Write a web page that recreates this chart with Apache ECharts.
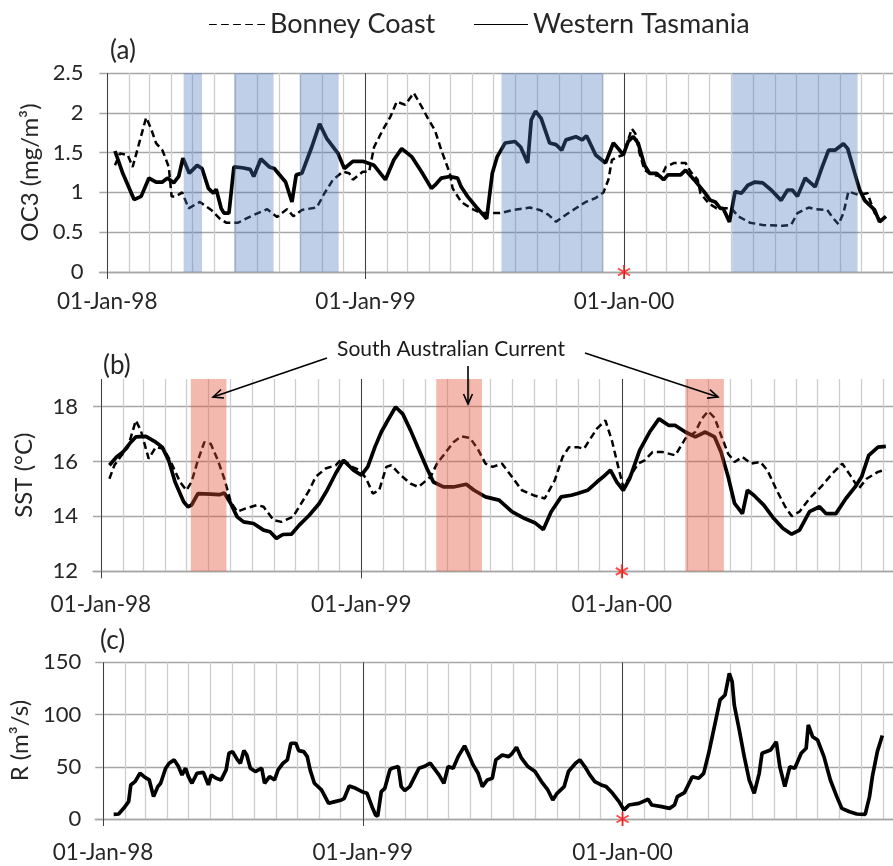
<!DOCTYPE html>
<html><head><meta charset="utf-8">
<script src="https://cdn.jsdelivr.net/npm/echarts@6/dist/echarts.min.js"></script>
<style>html,body{margin:0;padding:0;background:#fff}#c{width:893px;height:866px}</style>
</head><body><div id="c"></div>
<script>
// ---------------- DATA (day offsets from 01-Jan-1998, value) ----------------
const oc3Tasmania = [[11,1.52],[22,1.24],[38,0.91],[48,0.95],[59,1.18],[69,1.13],[78,1.13],[85,1.18],[94,1.12],[101,1.20],[107,1.43],[116,1.24],[127,1.34],[134,1.30],[143,1.05],[150,0.99],[154,1.04],[161,0.80],[165,0.74],[172,0.74],[179,1.32],[191,1.31],[202,1.29],[207,1.20],[217,1.42],[229,1.32],[236,1.30],[252,1.13],[261,0.88],[267,1.22],[275,1.24],[289,1.57],[300,1.86],[310,1.68],[326,1.49],[335,1.30],[347,1.39],[361,1.39],[377,1.34],[393,1.16],[405,1.41],[416,1.55],[430,1.45],[444,1.26],[458,1.05],[463,1.09],[472,1.18],[484,1.20],[495,1.18],[500,1.07],[509,0.95],[521,0.82],[536,0.67],[544,1.24],[551,1.45],[562,1.62],[576,1.64],[584,1.57],[594,1.37],[599,1.91],[605,2.02],[613,1.93],[625,1.62],[634,1.60],[642,1.53],[648,1.66],[662,1.70],[671,1.66],[677,1.71],[681,1.64],[690,1.47],[704,1.37],[715,1.62],[722,1.55],[729,1.47],[736,1.64],[743,1.70],[750,1.62],[759,1.34],[766,1.24],[776,1.24],[786,1.16],[792,1.22],[810,1.22],[817,1.28],[829,1.16],[843,1.01],[852,0.90],[859,0.88],[866,0.80],[870,0.80],[879,0.63],[887,1.01],[896,0.99],[905,1.09],[915,1.13],[926,1.12],[938,1.03],[952,0.90],[961,1.03],[968,1.03],[975,0.95],[986,1.18],[1000,1.07],[1010,1.32],[1019,1.53],[1028,1.53],[1040,1.61],[1046,1.55],[1056,1.24],[1063,1.03],[1070,0.90],[1084,0.78],[1091,0.63],[1100,0.70]];
const oc3Bonney = [[11,1.34],[18,1.49],[29,1.47],[36,1.32],[55,1.94],[62,1.80],[69,1.62],[78,1.53],[87,1.32],[91,0.95],[97,0.95],[106,1.00],[115,0.80],[131,0.88],[147,0.78],[159,0.67],[168,0.62],[185,0.62],[203,0.70],[226,0.79],[240,0.69],[254,0.79],[263,0.70],[275,0.78],[296,0.81],[307,0.99],[319,1.16],[333,1.26],[342,1.24],[347,1.16],[361,1.26],[370,1.26],[377,1.57],[389,1.78],[400,1.95],[409,2.14],[421,2.10],[433,2.25],[444,2.08],[453,1.93],[463,1.78],[472,1.53],[484,1.24],[488,1.05],[500,0.88],[514,0.80],[528,0.74],[555,0.74],[574,0.78],[597,0.81],[611,0.78],[623,0.72],[634,0.63],[648,0.72],[662,0.80],[676,0.88],[690,0.93],[701,1.00],[708,1.16],[713,1.41],[722,1.45],[729,1.47],[736,1.66],[741,1.80],[746,1.74],[752,1.49],[759,1.28],[771,1.22],[783,1.20],[789,1.32],[801,1.37],[817,1.37],[824,1.26],[834,1.16],[838,0.99],[850,0.86],[861,0.80],[870,0.80],[882,0.80],[891,0.70],[908,0.62],[926,0.59],[954,0.58],[966,0.59],[975,0.74],[991,0.81],[1000,0.79],[1017,0.78],[1026,0.67],[1033,0.60],[1040,0.74],[1047,1.01],[1061,0.97],[1074,0.99],[1084,0.74],[1092,0.65],[1100,0.68]];
const sstTasmania = [[12,15.86],[22,16.16],[31,16.34],[42,16.7],[49,16.89],[63,16.91],[77,16.7],[86,16.52],[95,16.04],[104,15.25],[116,14.53],[122,14.35],[127,14.41],[136,14.83],[154,14.81],[166,14.79],[173,14.85],[182,14.47],[191,13.98],[200,13.80],[214,13.74],[228,13.5],[237,13.44],[246,13.2],[255,13.34],[267,13.35],[278,13.68],[292,14.04],[306,14.47],[317,14.95],[329,15.56],[340,16.04],[354,15.68],[365,15.5],[374,15.8],[384,16.52],[393,17.07],[402,17.49],[413,17.98],[423,17.73],[434,17.13],[445,16.46],[457,15.74],[466,15.25],[480,15.07],[494,15.07],[512,15.17],[523,14.95],[539,14.71],[558,14.59],[576,14.17],[594,13.92],[608,13.77],[620,13.52],[631,14.17],[645,14.71],[659,14.77],[668,14.83],[682,14.95],[695,15.25],[704,15.44],[714,15.68],[723,15.25],[732,14.95],[741,15.37],[755,16.40],[769,17.07],[782,17.55],[796,17.31],[805,17.31],[819,17.07],[833,16.89],[847,17.07],[860,16.89],[869,16.34],[879,15.44],[888,14.47],[899,14.1],[906,14.95],[915,14.77],[929,14.41],[943,13.92],[956,13.56],[968,13.35],[979,13.5],[993,14.17],[1007,14.35],[1016,14.1],[1030,14.1],[1044,14.65],[1057,15.07],[1066,15.44],[1076,16.22],[1089,16.52],[1100,16.55]];
const sstBonney = [[12,15.37],[19,15.86],[29,16.22],[38,16.52],[49,17.49],[56,17.13],[67,16.1],[77,16.52],[88,16.46],[97,16.04],[111,15.25],[120,14.95],[127,15.25],[136,16.04],[145,16.7],[154,16.64],[164,16.04],[173,15.37],[182,14.53],[191,14.17],[203,14.29],[219,14.41],[228,14.35],[242,13.86],[253,13.8],[269,13.98],[278,14.35],[292,14.95],[301,15.44],[315,15.74],[329,15.86],[338,16.1],[352,15.8],[363,15.68],[372,15.37],[381,14.83],[390,14.95],[400,15.8],[407,15.86],[420,15.5],[434,15.19],[445,15.07],[462,15.44],[471,15.92],[480,16.22],[494,16.7],[505,16.91],[517,16.86],[528,16.46],[539,15.92],[549,15.8],[562,15.92],[576,15.44],[590,14.95],[606,14.77],[622,14.65],[636,15.31],[647,16.16],[656,16.52],[668,16.52],[677,16.46],[686,16.83],[695,17.19],[707,17.49],[716,16.77],[725,15.8],[732,15.07],[741,15.44],[753,15.92],[762,16.04],[773,16.34],[787,16.34],[805,16.22],[819,16.83],[833,17.07],[842,17.55],[851,17.83],[860,17.59],[869,16.95],[879,16.28],[888,15.98],[899,16.16],[911,15.92],[924,15.98],[934,15.68],[947,14.95],[959,14.35],[968,14.01],[979,14.17],[993,14.65],[1009,15.07],[1025,15.56],[1039,15.92],[1050,15.5],[1062,15.01],[1073,15.37],[1089,15.62],[1100,15.7]];
const riverR = [[15,4.5],[22,4.8],[29,10.2],[36,16.6],[39,32.6],[45,35.8],[52,43.8],[59,39.9],[65,37.4],[71,21.4],[77,31],[81,34.2],[88,48.6],[93,53.4],[100,56.6],[106,50.2],[111,42.2],[116,48.6],[120,40.6],[125,34.2],[132,43.8],[141,44.7],[148,32.6],[152,42.2],[159,39],[166,37.4],[173,47],[177,62.9],[182,64.5],[189,56.6],[193,53.4],[198,65.5],[202,61.3],[207,48.6],[214,45.4],[223,48.6],[227,34.2],[234,40.6],[241,37.4],[246,47],[253,53.4],[259,56.6],[264,72.5],[271,72.5],[275,65.5],[282,64.5],[287,59.7],[291,47],[297,34.2],[307,27.8],[317,15],[326,16.6],[335,18.2],[339,19.8],[346,31.6],[355,29.4],[364,26.2],[371,24.6],[378,11.8],[383,3.8],[386,2.9],[391,26.2],[396,29.4],[403,47],[406,48.6],[415,50.2],[419,31],[424,27.2],[431,31],[438,40.6],[444,48.6],[451,50.2],[460,53.4],[465,48.6],[472,42.2],[479,34.2],[485,50.2],[492,48.6],[499,59.7],[508,70],[515,59.7],[520,51.8],[527,43.8],[533,31],[540,37.4],[547,39],[552,56.6],[561,61.3],[570,59.7],[575,62.9],[581,68.7],[588,58.2],[597,50.2],[607,45.4],[616,35.8],[625,27.8],[632,18.2],[638,24.6],[648,31],[654,45.4],[664,53.4],[670,56.6],[677,50.2],[684,42.2],[691,35.8],[700,32.6],[707,31],[716,24.6],[725,16.6],[732,8.6],[739,13.4],[753,15],[766,18.9],[771,13.4],[785,11.8],[796,10.2],[803,13.4],[807,21.4],[817,25.2],[828,40.5],[837,39],[844,43.7],[851,62.9],[860,91.6],[867,114],[874,118.7],[880,139.4],[884,131.5],[887,109],[894,85.2],[901,59.7],[908,37.3],[915,24.6],[922,43.7],[926,62.9],[938,66],[946,74],[951,50],[958,31],[965,50],[972,48.5],[981,62.9],[988,67.7],[991,90],[997,78.8],[1004,75.6],[1013,59.7],[1022,37.3],[1031,21.4],[1038,10.2],[1049,7],[1059,4.8],[1071,4.5],[1077,21.4],[1081,40.5],[1088,64.5],[1095,80]];
const oc3Bands = [['1998-04-19','1998-05-15'],['1998-06-29','1998-08-24'],['1998-09-30','1998-11-24'],['1999-07-12','1999-12-03'],['2000-06-02','2000-11-26']];
const sacBands = [['1998-05-07','1998-06-26'],['1999-04-16','1999-06-19'],['2000-03-30','2000-05-23']];
const yearTickLabels = ['01-Jan-98','01-Jan-99','01-Jan-00'];
const yearTickDates = ['1998-01-01','1999-01-01','2000-01-01'];
const markerDate = '2000-01-01';
const seriesNames = ['Bonney Coast','Western Tasmania'];
const yNames = ['OC3 (mg/m³)','SST (°C)','R (m³/s)'];
const panelLabels = ['(a)','(b)','(c)'];
const annotationText = 'South Australian Current';

// ---------------- helpers ----------------
const FONT = 'Lato';
const DAY = 86400000;
const BASE = new Date(1998,0,1).getTime();
const toTs = d => BASE + d*DAY;
const dateTs = s => { const [y,m,d] = s.split('-').map(Number); return new Date(y,m-1,d).getTime(); };
const X_MIN = new Date(1997,11,21).getTime();
const X_MAX = new Date(2001,0,15).getTime();
const monthTicks = [];
for (let y=1998; y<=2001; y++) for (let m=0; m<12; m++) { if (y===2001 && m>0) break; monthTicks.push(new Date(y,m,1).getTime()); }
const yearTicks = yearTickDates.map(dateTs);
const ASTERISK = 'path://M-1,-7L1,-7L1,7L-1,7Z M5.562,-4.366L6.562,-2.634L-5.562,4.366L-6.562,2.634Z M-6.562,-2.634L-5.562,-4.366L6.562,2.634L5.562,4.366Z';
const DASH_ICON = 'path://M0,0h8v1h-8z M12.5,0h8v1h-8z M25,0h8v1h-8z M37.5,0h8v1h-8z M50,0h8v1h-8z';
const SOLID_ICON = 'path://M0,0h54v1h-54z';

const grids = [
  {left:99.4, top:73, width:806, height:199},
  {left:93, top:379, width:815.4, height:192.3},
  {left:91, top:662.3, width:818, height:156.7}
];
const xLabelMargins = [18, 22, 22];
const yLabelMargins = [16, 15, 14];
const nameGaps = [57, 57, 54];

const xAxes = [];
grids.forEach((g,i) => {
  xAxes.push({type:'value', gridIndex:i, min:X_MIN, max:X_MAX, position:'top',
    axisLine:{show:false}, axisTick:{show:false, customValues:monthTicks}, axisLabel:{show:false},
    splitLine:{show:true, lineStyle:{color:'#cdcdcd', width:1.3}}});
  xAxes.push({type:'value', gridIndex:i, min:X_MIN, max:X_MAX, position:'bottom',
    axisLine:{show:true, onZero:false, lineStyle:{color:'#a6a6a6', width:1.3}},
    axisTick:{show:true, customValues:yearTicks, length:7, lineStyle:{color:'#404040', width:1}},
    axisLabel:{customValues:yearTicks, fontFamily:FONT, fontSize:22.5, color:'#262626', margin:xLabelMargins[i],
      formatter: v => { const k = yearTicks.findIndex(t => Math.abs(t - v) < DAY/2); return k >= 0 ? yearTickLabels[k] : ''; }},
    splitLine:{show:true, lineStyle:{color:'#404040', width:1}}});
});

const yBase = (i) => ({type:'value', gridIndex:i, axisLine:{show:false}, axisTick:{show:false},
  axisLabel:{fontFamily:FONT, fontSize:22, color:'#262626', margin:yLabelMargins[i]},
  splitLine:{show:true, lineStyle:{color:'#a6a6a6', width:1.3}},
  name:yNames[i], nameLocation:'middle', nameGap:nameGaps[i],
  nameTextStyle:{fontFamily:FONT, fontSize:24, color:'#262626'}});
const yAxes = [
  Object.assign(yBase(0), {min:0, max:2.5, interval:0.5}),
  Object.assign(yBase(1), {min:12, max:19, interval:2}),
  Object.assign(yBase(2), {min:0, max:150, interval:50})
];
yAxes[1].axisLabel.showMaxLabel = false;
yAxes[1].splitLine.showMaxLine = false;

const conv = arr => arr.map(p => [toTs(p[0]), p[1]]);
const dashed = (name, data, gi) => ({type:'line', name, xAxisIndex:gi*2+1, yAxisIndex:gi, data:conv(data),
  symbol:'none', silent:true, lineStyle:{color:'#000', width:2.5, type:[7,4]}, itemStyle:{color:'#000'}, z:3, animation:false});
const solid = (name, data, gi) => ({type:'line', name, xAxisIndex:gi*2+1, yAxisIndex:gi, data:conv(data),
  symbol:'none', silent:true, lineStyle:{color:'#000', width:3.7}, itemStyle:{color:'#000'}, z:3, animation:false});
const star = (gi, yv) => ({type:'scatter', xAxisIndex:gi*2+1, yAxisIndex:gi, data:[[dateTs(markerDate), yv]],
  symbol:ASTERISK, symbolSize:[13,14], itemStyle:{color:'#ff1a1a'}, z:10, silent:true, animation:false});

const s0 = solid(seriesNames[1], oc3Tasmania, 0);
s0.markArea = {silent:true, z:6, itemStyle:{color:'rgba(72,118,190,0.35)'},
  data: oc3Bands.map(b => [{xAxis:dateTs(b[0])},{xAxis:dateTs(b[1])}])};
const s1 = solid(seriesNames[1], sstTasmania, 1);
s1.markArea = {silent:true, z:6, itemStyle:{color:'rgba(225,80,55,0.40)'},
  data: sacBands.map(b => [{xAxis:dateTs(b[0])},{xAxis:dateTs(b[1])}])};

const series = [
  dashed(seriesNames[0], oc3Bonney, 0), s0, star(0, 0),
  dashed(seriesNames[0], sstBonney, 1), s1, star(1, 12),
  solid('R', riverR, 2), star(2, 0)
];

function arrow(x1,y1,x2,y2){
  const a = Math.atan2(y2-y1, x2-x1), L = 11, w = 0.42;
  return [
    {type:'line', shape:{x1,y1,x2,y2}, style:{stroke:'#000', lineWidth:1.6}, z:20},
    {type:'polyline', shape:{points:[[x2 - L*Math.cos(a-w), y2 - L*Math.sin(a-w)],[x2,y2],[x2 - L*Math.cos(a+w), y2 - L*Math.sin(a+w)]]},
      style:{stroke:'#000', lineWidth:1.6, fill:null}, z:20}
  ];
}
const labelPos = [[110,50],[103,365],[100,640]];
const graphic = [
  ...panelLabels.map((t,i) => ({type:'text', left:labelPos[i][0], top:labelPos[i][1]-12, z:20,
    style:{text:t, fontFamily:FONT, fontSize:26, fill:'#262626'}})),
  {type:'text', x:451, y:349, z:20, style:{text:annotationText, fontFamily:FONT, fontSize:21, fill:'#1a1a1a', align:'center', verticalAlign:'middle'}},
  ...arrow(327,358,213,397), ...arrow(468,366,468,404), ...arrow(585,353,718,397)
];

const legendText = {fontFamily:FONT, fontSize:27, color:'#262626'};
const chart = echarts.init(document.getElementById('c'), null, {renderer:'canvas'});
chart.setOption({
  animation:false,
  backgroundColor:'#fff',
  textStyle:{fontFamily:FONT},
  legend:[
    {data:[{name:seriesNames[0], icon:DASH_ICON}], left:204, top:6, itemWidth:56, itemHeight:3.2, textStyle:legendText, selectedMode:false},
    {data:[{name:seriesNames[1], icon:SOLID_ICON}], left:469, top:6, itemWidth:54, itemHeight:3.6, textStyle:legendText, selectedMode:false}
  ],
  grid:grids,
  xAxis:xAxes,
  yAxis:yAxes,
  series,
  graphic
});
</script></body></html>
